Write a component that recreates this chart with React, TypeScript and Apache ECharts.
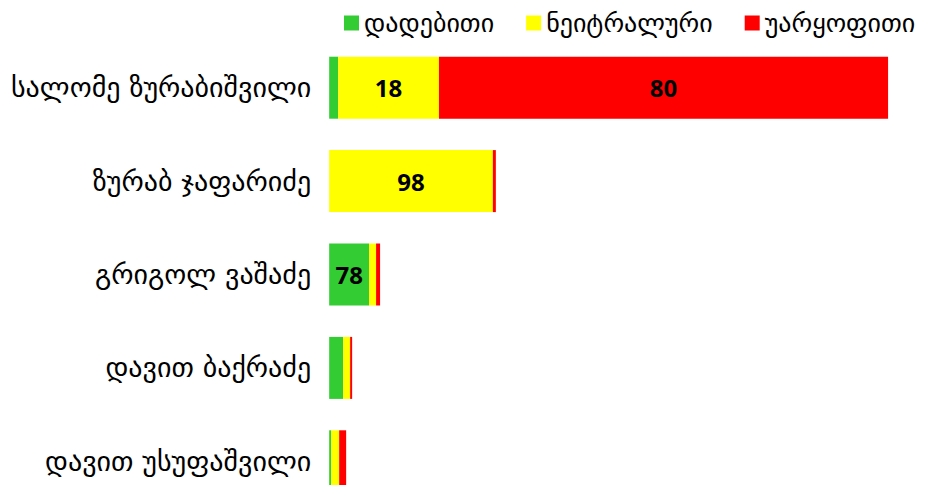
import React, { useEffect, useRef } from "react";
import * as echarts from "echarts";

const categories = [
  "სალომე ზურაბიშვილი",
  "ზურაბ ჯაფარიძე",
  "გრიგოლ ვაშაძე",
  "დავით ბაქრაძე",
  "დავით უსუფაშვილი",
];
const seriesNames = ["დადებითი", "ნეიტრალური", "უარყოფითი"];
const positive = [9, 0, 40, 14, 2];
const neutral = [101, 164, 7, 7, 8];
const negative = [450, 3, 4, 2, 7];
const colors = ["#33CC33", "#FFFF00", "#FF0000"];

export default function App() {
  const ref = useRef<HTMLDivElement>(null);
  useEffect(() => {
    if (!ref.current) return;
    const chart = echarts.init(ref.current, undefined, { renderer: "svg" });
    const totals = categories.map((_, i) => positive[i] + neutral[i] + negative[i]);
    const all = [positive, neutral, negative];
    chart.setOption({
      animation: false,
      legend: {
        top: 2,
        left: 336,
        padding: 0,
        itemWidth: 15,
        itemHeight: 15,
        itemGap: 32,
        icon: "rect",
        textStyle: { fontFamily: "DejaVu Sans", fontSize: 26, color: "#000", lineHeight: 26 },
        data: seriesNames,
      },
      grid: { left: 320, top: 33, width: 600, height: 467 },
      xAxis: { type: "value", min: 0, max: 600, show: false },
      yAxis: {
        type: "category",
        data: categories,
        inverse: true,
        axisLine: { show: false },
        axisTick: { show: false },
        axisLabel: { fontFamily: "DejaVu Sans", fontSize: 28, color: "#000", margin: 18 },
      },
      series: seriesNames.map((name, s) => ({
        name,
        type: "bar",
        stack: "total",
        barWidth: 62,
        itemStyle: { color: colors[s] },
        data: all[s],
        label: {
          show: true,
          position: "inside",
          fontFamily: "Open Sans",
          fontWeight: "bold",
          fontSize: 24,
          color: "#000",
          formatter: (p: any) => {
            const pct = Math.round((p.value / totals[p.dataIndex]) * 100);
            return p.value >= 30 ? String(pct) : "";
          },
        },
      })),
    });
    return () => chart.dispose();
  }, []);
  return (
    <div style={{ width: 923, height: 477, overflow: "hidden" }}>
      <div ref={ref} style={{ width: 923, height: 530 }} />
    </div>
  );
}
